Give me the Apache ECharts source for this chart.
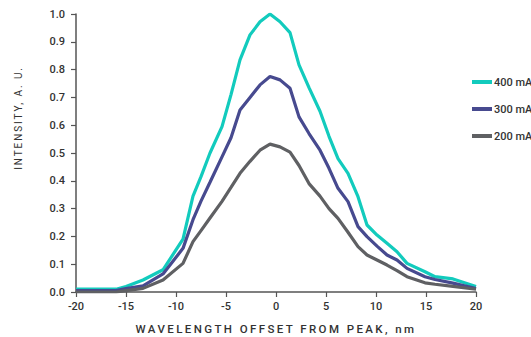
<!DOCTYPE html>
<html>
<head>
<meta charset="utf-8">
<script src="https://cdn.jsdelivr.net/npm/echarts@6/dist/echarts.min.js"></script>
<style>
  html, body { margin: 0; padding: 0; background: #fff; }
  #chart { width: 531px; height: 337px; }
</style>
</head>
<body>
<div id="chart"></div>
<script>
// wavelength offset from peak (nm), shared by all three curves
const offsets = [-20, -16, -15, -13.3, -11.3, -9.3, -8.3, -7.5, -6.6, -5.4, -4.5, -3.6, -2.6, -1.6, -0.6,
  0.4, 1.4, 2.3, 3.3, 4.4, 5.3, 6.2, 7.2, 8.2, 9.1, 10.1, 11.1, 12.1, 13.1, 14.9, 15.9, 17.7, 20]

const ma400 = [0.01, 0.01, 0.02, 0.043, 0.08, 0.19, 0.345, 0.415, 0.5, 0.595, 0.71, 0.835, 0.925, 0.972, 1.0,
  0.972, 0.933, 0.817, 0.735, 0.65, 0.56, 0.48, 0.427, 0.343, 0.241, 0.205, 0.175, 0.145, 0.103, 0.073, 0.055, 0.047, 0.02]

const ma300 = [0.005, 0.005, 0.012, 0.022, 0.065, 0.157, 0.26, 0.327, 0.395, 0.486, 0.555, 0.655, 0.7, 0.745, 0.775,
  0.763, 0.733, 0.63, 0.57, 0.51, 0.445, 0.373, 0.325, 0.235, 0.199, 0.165, 0.133, 0.115, 0.085, 0.055, 0.045, 0.032, 0.012]

const ma200 = [0, 0, 0.005, 0.013, 0.043, 0.103, 0.181, 0.221, 0.266, 0.326, 0.376, 0.427, 0.47, 0.51, 0.532,
  0.522, 0.503, 0.455, 0.39, 0.345, 0.3, 0.265, 0.215, 0.163, 0.133, 0.115, 0.097, 0.077, 0.055, 0.033, 0.028, 0.02, 0.01]

const seriesNames = ['400 mA', '300 mA', '200 mA']
const xTitle = 'WAVELENGTH OFFSET FROM PEAK, nm'
const yTitle = 'INTENSITY, A. U.'

const colors = ['#12cbbd', '#474a8f', '#5f6063']
const font = 'Roboto, "DejaVu Sans", sans-serif'
const textColor = '#333'
const axisColor = '#555'

function pairs(values) {
  return offsets.map((x, i) => [x, values[i]])
}

function lineSeries(name, values, color) {
  return {
    name,
    type: 'line',
    showSymbol: false,
    symbol: 'none',
    data: pairs(values),
    lineStyle: { color, width: 3.2 },
    itemStyle: { color },
  }
}

const chart = echarts.init(document.getElementById('chart'), null, { renderer: 'svg' })

chart.setOption({
  animation: false,
  backgroundColor: '#fff',
  grid: { left: 76, right: 55, top: 14, bottom: 45, outerBoundsMode: 'none', containLabel: false },
  legend: {
    orient: 'vertical',
    left: 467,
    top: 70,
    icon: 'rect',
    itemWidth: 20,
    itemHeight: 4,
    itemGap: 13,
    textStyle: { color: textColor, fontSize: 11, fontFamily: font, fontWeight: 500, lineHeight: 14, padding: [0, 0, 0, -3] },
    data: seriesNames,
  },
  xAxis: {
    type: 'value',
    min: -20,
    max: 20,
    interval: 5,
    name: xTitle,
    nameLocation: 'middle',
    nameGap: 31,
    nameTextStyle: { color: textColor, fontSize: 11.5, fontFamily: font, fontWeight: 500 },
    axisLine: { onZero: false, lineStyle: { color: axisColor, width: 1.5 } },
    axisTick: { show: true, length: 5, lineStyle: { color: axisColor, width: 1.2 } },
    axisLabel: { color: textColor, fontSize: 11, fontFamily: font, fontWeight: 500, margin: 9 },
    splitLine: { show: false },
  },
  yAxis: {
    type: 'value',
    min: 0,
    max: 1,
    interval: 0.1,
    axisLine: { show: true, onZero: false, lineStyle: { color: axisColor, width: 1.5 } },
    axisTick: { show: true, length: 5, lineStyle: { color: axisColor, width: 1.2 } },
    axisLabel: { color: textColor, fontSize: 11, fontFamily: font, fontWeight: 500, margin: 11, formatter: (v) => v.toFixed(1) },
    splitLine: { show: false },
  },
  graphic: [
    {
      type: 'text',
      x: 18,
      y: 118,
      rotation: Math.PI / 2,
      style: {
        text: yTitle,
        fill: textColor,
        font: '10px ' + font,
        align: 'center',
        verticalAlign: 'middle',
      },
    },
  ],
  series: [
    lineSeries(seriesNames[0], ma400, colors[0]),
    lineSeries(seriesNames[1], ma300, colors[1]),
    lineSeries(seriesNames[2], ma200, colors[2]),
  ],
})

// the reference titles are letter-spaced; apply it to the rendered svg text
function spaceTitles() {
  document.querySelectorAll('#chart svg text').forEach((el) => {
    if (el.textContent === xTitle) el.style.letterSpacing = '2.4px'
    if (el.textContent === yTitle) el.style.letterSpacing = '1.9px'
  })
}
chart.on('finished', spaceTitles)
setTimeout(spaceTitles, 50)
</script>
</body>
</html>
